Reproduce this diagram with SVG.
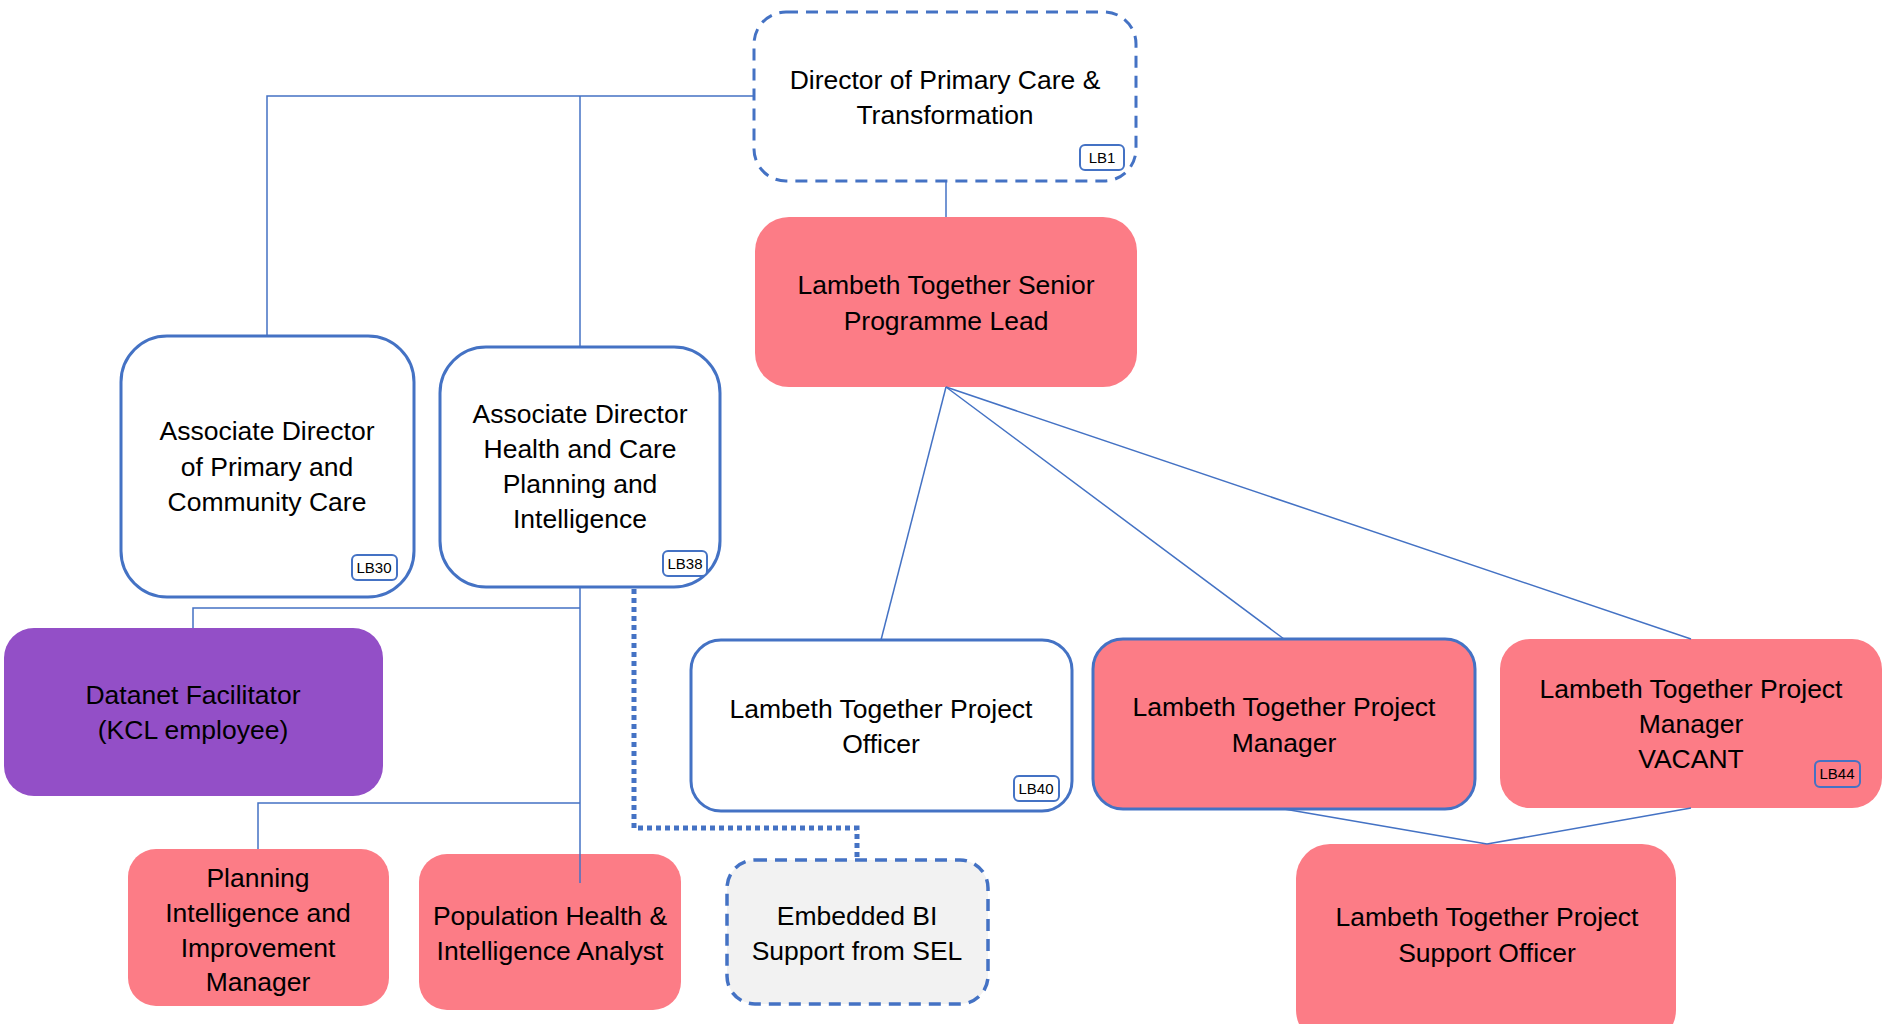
<svg xmlns="http://www.w3.org/2000/svg" width="1883" height="1024" viewBox="0 0 1883 1024">
<style>
text{font-family:"Liberation Sans",Arial,sans-serif;font-size:26.5px;fill:#000;text-anchor:middle}
.badge text,text.b{font-size:15px}
.pink{fill:#FC7C86}
.purple{fill:#934FC7}
.wb{fill:#fff;stroke:#4472C4;stroke-width:3}
.dash{stroke-dasharray:12,8}
.bd{fill:none;stroke:#4472C4;stroke-width:2}
.bdw{fill:#fff;stroke:#4472C4;stroke-width:2}
.con line,.con polyline{stroke:#4472C4;stroke-width:1.5;fill:none}
.con .dot{stroke:#4472C4;stroke-width:5;stroke-dasharray:5,4;fill:none}
</style>
<rect width="1883" height="1024" fill="#fff"/>

<g id="director">
<rect class="wb dash" x="754" y="12" width="382" height="169" rx="32"/>
<text x="945" y="89">Director of Primary Care &amp;</text>
<text x="945" y="124">Transformation</text>
<rect class="bdw" x="1080" y="145" width="44" height="25" rx="5"/>
<text class="b" x="1102" y="163">LB1</text>
</g>

<g id="senior-lead">
<rect class="pink" x="755" y="217" width="382" height="170" rx="34"/>
<text x="946" y="294">Lambeth Together Senior</text>
<text x="946" y="330">Programme Lead</text>
</g>

<g id="assoc-primary">
<rect class="wb" x="121" y="336" width="293" height="261" rx="46"/>
<text x="267" y="440">Associate Director</text>
<text x="267" y="476">of Primary and</text>
<text x="267" y="511">Community Care</text>
<rect class="bdw" x="352" y="555" width="45" height="25" rx="5"/>
<text class="b" x="374" y="573">LB30</text>
</g>

<g id="assoc-planning">
<rect class="wb" x="440" y="347" width="280" height="240" rx="46"/>
<text x="580" y="423">Associate Director</text>
<text x="580" y="458">Health and Care</text>
<text x="580" y="493">Planning and</text>
<text x="580" y="528">Intelligence</text>
<rect class="bdw" x="663" y="551" width="44" height="25" rx="5"/>
<text class="b" x="685" y="569">LB38</text>
</g>

<g id="datanet">
<rect class="purple" x="4" y="628" width="379" height="168" rx="30"/>
<text x="193" y="704">Datanet Facilitator</text>
<text x="193" y="739">(KCL employee)</text>
</g>

<g id="planning-manager">
<rect class="pink" x="128" y="849" width="261" height="157" rx="28"/>
<text x="258" y="887">Planning</text>
<text x="258" y="922">Intelligence and</text>
<text x="258" y="957">Improvement</text>
<text x="258" y="991">Manager</text>
</g>

<g id="pop-health">
<rect class="pink" x="419" y="854" width="262" height="156" rx="28"/>
<text x="550" y="925">Population Health &amp;</text>
<text x="550" y="960">Intelligence Analyst</text>
</g>

<g id="embedded-bi">
<rect x="727" y="860" width="261" height="144" rx="28" fill="#F2F2F2" stroke="#4472C4" stroke-width="3.5" class="dash"/>
<text x="857" y="925">Embedded BI</text>
<text x="857" y="960">Support from SEL</text>
</g>

<g id="project-officer">
<rect class="wb" x="691" y="640" width="381" height="171" rx="30"/>
<text x="881" y="718">Lambeth Together Project</text>
<text x="881" y="753">Officer</text>
<rect class="bdw" x="1014" y="776" width="45" height="25" rx="5"/>
<text class="b" x="1036" y="794">LB40</text>
</g>

<g id="project-manager">
<rect class="pink" x="1093" y="639" width="382" height="170" rx="30" stroke="#4472C4" stroke-width="3"/>
<text x="1284" y="716">Lambeth Together Project</text>
<text x="1284" y="752">Manager</text>
</g>

<g id="project-manager-vacant">
<rect class="pink" x="1500" y="639" width="382" height="169" rx="30"/>
<text x="1691" y="698">Lambeth Together Project</text>
<text x="1691" y="733">Manager</text>
<text x="1691" y="768">VACANT</text>
<rect class="bd" x="1815" y="761" width="45" height="26" rx="5"/>
<text class="b" x="1837" y="779">LB44</text>
</g>

<g id="support-officer">
<rect class="pink" x="1296" y="844" width="380" height="200" rx="34"/>
<text x="1487" y="926">Lambeth Together Project</text>
<text x="1487" y="962">Support Officer</text>
</g>

<g id="connectors" class="con">
<line x1="946" y1="181" x2="946" y2="217"/>
<polyline points="754,96 267,96 267,336"/>
<line x1="580" y1="96" x2="580" y2="347"/>
<line x1="580" y1="587" x2="580" y2="883"/>
<polyline points="580,608 193,608 193,628"/>
<polyline points="580,803 258,803 258,849"/>
<polyline class="dot" points="634,589 634,828 857,828 857,860"/>
<line x1="946" y1="387" x2="881" y2="640"/>
<line x1="946" y1="387" x2="1284" y2="639"/>
<line x1="946" y1="387" x2="1691" y2="639"/>
<line x1="1284" y1="809" x2="1487" y2="844"/>
<line x1="1691" y1="808" x2="1487" y2="844"/>
</g>
</svg>
